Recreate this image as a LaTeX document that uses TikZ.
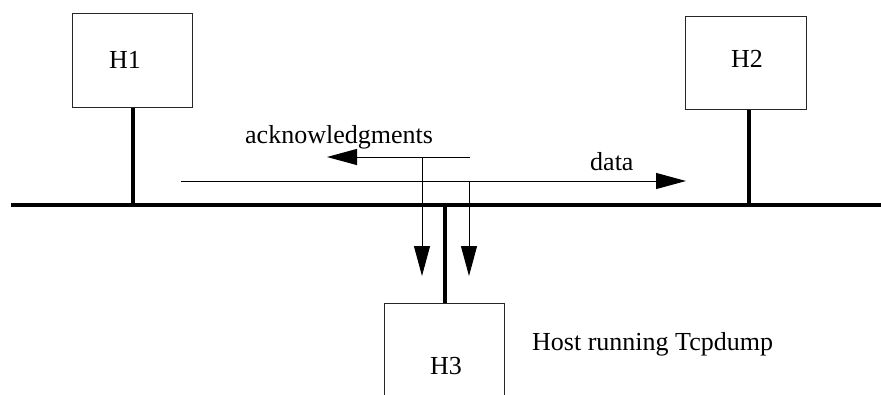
\documentclass[tikz,border=0pt]{standalone}
\usepackage{fontspec}
\setmainfont{Liberation Serif}
\usetikzlibrary{arrows.meta}
\begin{document}
\begin{tikzpicture}[x=1pt,y=-1pt,
    font=\fontsize{26}{30}\selectfont,
    hostbox/.style={draw=black!85,line width=1pt,rectangle,inner sep=0pt},
    wire/.style={line width=4pt},
    thin/.style={line width=1pt},
    flow/.style={thin,-{Triangle[length=30pt,width=16pt]}},
    txt/.style={inner sep=0pt,anchor=base west},
    hlabel/.style={inner sep=0pt,anchor=base}]
  \useasboundingbox (0,0) rectangle (881,394);
  \clip (0,0) rectangle (881,394);

  % hosts
  \node[hostbox,minimum width=120pt,minimum height=94pt] (h1) at (132,60) {};
  \node[hostbox,minimum width=121pt,minimum height=93pt] (h2) at (745.5,62.5) {};
  \node[hostbox,minimum width=120pt,minimum height=126pt] (h3) at (444,366) {};
  \node[hlabel] (h1t) at (125,68) {H1};
  \node[hlabel] (h2t) at (747,67) {H2};
  \node[hlabel] (h3t) at (446,374) {H3};

  % the shared cable and its taps
  \coordinate (busL) at (11,205);
  \coordinate (busR) at (881,205);
  \coordinate (tap1) at (133,205);
  \coordinate (tap2) at (749,205);
  \coordinate (tap3) at (445,203);
  \draw[wire] (busL) -- (busR);
  \draw[wire] (h1.south -| tap1) -- (tap1);
  \draw[wire] (h2.south -| tap2) -- (tap2);
  \draw[wire] (tap3) -- (h3.north -| tap3);

  % traffic flows
  \coordinate (ackS) at (470,157);
  \coordinate (ackE) at (327,157);
  \coordinate (datS) at (181,181);
  \coordinate (datE) at (686,181);
  \coordinate (cpA) at (422,157);
  \coordinate (cpB) at (469,181);
  \coordinate (cpAe) at (422,276);
  \coordinate (cpBe) at (469,276);
  \draw[flow] (ackS) -- (ackE);
  \draw[flow] (datS) -- (datE);
  \draw[flow] (cpA) -- (cpAe);
  \draw[flow] (cpB) -- (cpBe);

  % labels
  \node[txt] (ack) at (245,143) {acknowledgments};
  \node[txt] (dat) at (590,170) {data};
  \node[txt] (host) at (532,350) {Host running Tcpdump};
\end{tikzpicture}
\end{document}
